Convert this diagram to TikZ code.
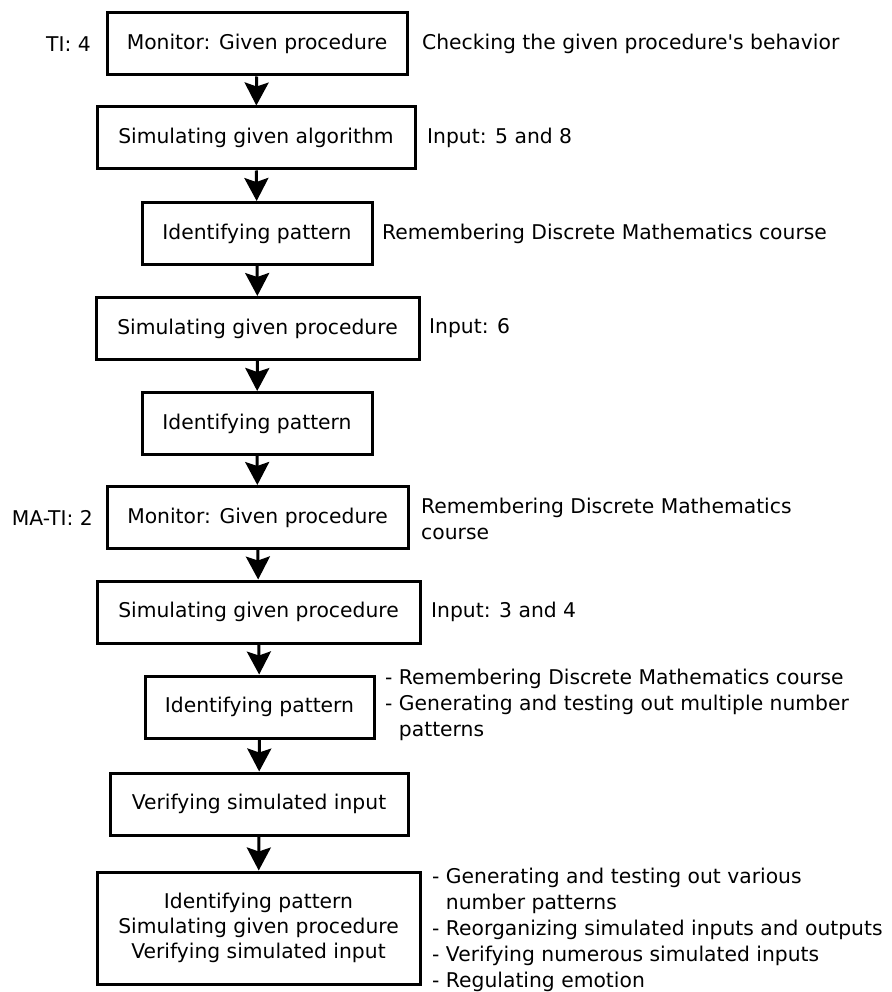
\documentclass[tikz,border=0pt]{standalone}
\usepackage{fontspec}
\setmainfont{DejaVu Sans}
\usetikzlibrary{arrows.meta}
\begin{document}
\begin{tikzpicture}[x=1pt,y=-1pt,
  every node/.style={font=\fontsize{20.3}{26}\selectfont, text=black},
  stepbox/.style={draw=black, line width=3pt, minimum height=62pt,
    inner sep=0pt, align=center},
  flow/.style={line width=3pt, -{Stealth[length=23pt,width=24pt,inset=4pt]}},
  note/.style={anchor=west, align=left, inner sep=0pt},
  tag/.style={anchor=east, inner sep=0pt}]
\useasboundingbox (0,0) rectangle (891,992);

% process steps
\node[stepbox, minimum width=300pt] (b1) at (257,44) {Monitor: Given procedure};
\node[stepbox, minimum width=318pt] (b2) at (256,138) {Simulating given algorithm};
\node[stepbox, minimum width=230pt] (b3) at (257,233.5) {Identifying pattern};
\node[stepbox, minimum width=323pt] (b4) at (257.5,328.5) {Simulating given procedure};
\node[stepbox, minimum width=230pt] (b5) at (257,423.5) {Identifying pattern};
\node[stepbox, minimum width=301pt] (b6) at (257.5,517.5) {Monitor: Given procedure};
\node[stepbox, minimum width=323pt] (b7) at (258.5,612) {Simulating given procedure};
\node[stepbox, minimum width=229pt] (b8) at (259.5,707) {Identifying pattern};
\node[stepbox, minimum width=298pt] (b9) at (259,804) {Verifying simulated input};
\node[stepbox, minimum width=323pt, minimum height=112pt, font=\fontsize{20.3}{25}\selectfont] (b10) at (258.5,928)
  {Identifying pattern\\Simulating given procedure\\Verifying simulated input};

% connectors
\draw[flow] (b1) -- (b2);
\draw[flow] (b2) -- (b3);
\draw[flow] (b3) -- (b4);
\draw[flow] (b4) -- (b5);
\draw[flow] (b5) -- (b6);
\draw[flow] (b6) -- (b7);
\draw[flow] (b7) -- (b8);
\draw[flow] (b8) -- (b9);
\draw[flow] (b9) -- (b10);

% left tags
\node[tag] (t1) at (91,44) {TI: 4};
\node[tag] (t2) at (93,517.5) {MA-TI: 2};

% right notes
\node[note] (n1) at (422,44) {Checking the given procedure\textquotesingle s behavior};
\node[note] (n2) at (427,138) {Input: 5 and 8};
\node[note] (n3) at (382,233.5) {Remembering Discrete Mathematics course};
\node[note] (n4) at (429,328.5) {Input: 6};
\node[note] (n6) at (421,519) {Remembering Discrete Mathematics\\course};
\node[note] (n7) at (431,612) {Input: 3 and 4};
\node[note] (n8) at (385,704.5) {- Remembering Discrete Mathematics course\\- Generating and testing out multiple number\\\phantom{- }patterns};
\node[note] (n10) at (432,930) {- Generating and testing out various\\\phantom{- }number patterns\\- Reorganizing simulated inputs and outputs\\- Verifying numerous simulated inputs\\- Regulating emotion};
\end{tikzpicture}
\end{document}
